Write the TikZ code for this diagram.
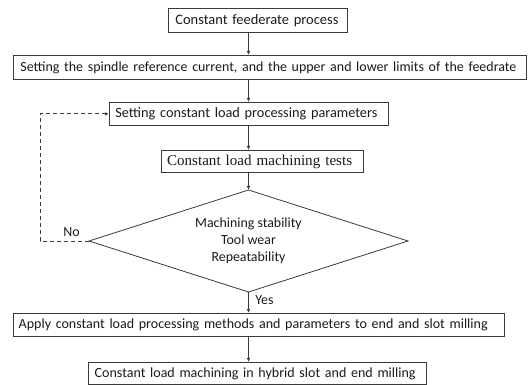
\documentclass[tikz,border=0pt]{standalone}
\usepackage{fontspec}
\usepackage{graphicx}
\setmainfont{Carlito}
\newfontfamily\serifalt{Liberation Serif}
\usetikzlibrary{arrows.meta}
\definecolor{linegray}{HTML}{3A3A3A}
\definecolor{txt}{HTML}{1A1A1A}
\newcommand{\fitw}[2]{\resizebox{#1}{!}{#2}}
\begin{document}
\begin{tikzpicture}[x=1pt,y=-1pt,
  box/.style={draw=linegray, line width=0.8pt, inner xsep=6pt, inner ysep=0pt,
    align=left, anchor=north west, text=txt, font=\fontsize{13.9}{15}\selectfont},
  conn/.style={draw=linegray, line width=0.8pt, -{Latex[length=4pt,width=3.5pt]}},
  dashconn/.style={conn, dash pattern=on 4pt off 3pt},
  edge/.style={draw=linegray, line width=0.8pt},
  lbl/.style={text=txt, font=\fontsize{13.9}{15}\selectfont, inner sep=0pt}]
\useasboundingbox (0,0) rectangle (528,385);

\node[box, inner xsep=7pt, text width=165pt, minimum height=24pt] (b1) at (168,8) {\fitw{163pt}{Constant feederate process}};
\node[box, inner xsep=7pt, text width=499pt, minimum height=24pt] (b2) at (13,55) {\fitw{496pt}{Setting the spindle reference current, and the upper and lower limits of the feedrate}};
\node[box, inner xsep=6pt, text width=267pt, minimum height=23pt] (b3) at (109,102) {\fitw{262pt}{Setting constant load processing parameters}};
\node[box, inner xsep=5.7pt, text width=190.6pt, minimum height=22pt, font=\serifalt\fontsize{13.5}{15}\selectfont] (b4) at (161,150) {\fitw{185pt}{Constant load machining tests}};
\node[box, inner xsep=5.3pt, text width=480.4pt, minimum height=23pt] (b5) at (13,313) {\fitw{469pt}{Apply constant load processing methods and parameters to end and slot milling}};
\node[box, inner xsep=6.3pt, text width=325.4pt, minimum height=22pt] (b6) at (88,362) {\fitw{321pt}{Constant load machining in hybrid slot and end milling}};

\coordinate (dT) at (248.5,190);
\coordinate (dR) at (408,241);
\coordinate (dB) at (248.5,292);
\coordinate (dL) at (89,241);
\draw[edge] (dT) -- (dR) -- (dB) -- (dL) -- cycle;
\node[lbl, align=center, font=\fontsize{13.9}{17}\selectfont] (dtext) at (248.5,241) {Machining stability\\Tool wear\\Repeatability};

\coordinate (loop) at (40,0);

\draw[conn] (b1.south -| dT) -- (b2.north -| dT);
\draw[conn] (b2.south -| dT) -- (b3.north -| dT);
\draw[conn] (b3.south -| dT) -- (b4.north -| dT);
\draw[conn] (b4.south -| dT) -- (dT);
\draw[conn] (dB) -- (b5.north -| dB);
\draw[conn] (b5.south -| dT) -- (b6.north -| dT);
\draw[dashconn] (dL) -- (dL -| loop) |- (b3.west);

\node[lbl] (no) at (71.5,232) {No};
\node[lbl] (yes) at (264.5,300) {Yes};
\end{tikzpicture}
\end{document}
